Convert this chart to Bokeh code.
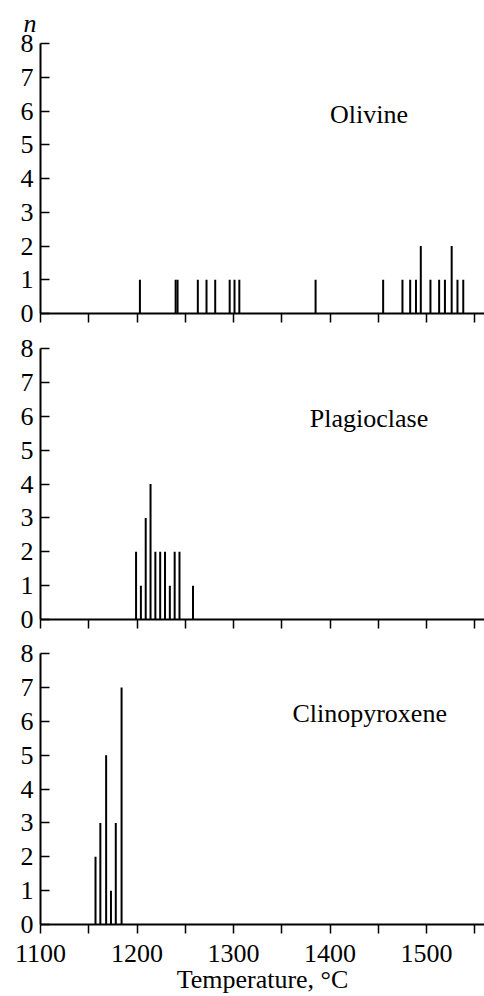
from bokeh.plotting import figure
from bokeh.models import Range1d, FixedTicker, Label
from bokeh.layouts import column
from bokeh.embed import file_html
from bokeh.resources import INLINE

# ---- data ----
olivine_t = [1203, 1240, 1242, 1263, 1272, 1281, 1296, 1301, 1306, 1385,
             1455, 1475, 1483, 1489, 1494, 1504, 1513, 1519, 1526, 1532, 1538]
olivine_n = [1, 1, 1, 1, 1, 1, 1, 1, 1, 1,
             1, 1, 1, 1, 2, 1, 1, 1, 2, 1, 1]
plag_t = [1199, 1204, 1209, 1214, 1219, 1224, 1229, 1234, 1239, 1244, 1258]
plag_n = [2, 1, 3, 4, 2, 2, 2, 1, 2, 2, 1]
cpx_t = [1157, 1162, 1168, 1173, 1178, 1184]
cpx_n = [2, 3, 5, 1, 3, 7]

panel_names = ["Olivine", "Plagioclase", "Clinopyroxene"]
y_ticks = [0, 1, 2, 3, 4, 5, 6, 7, 8]
x_major = [1100, 1200, 1300, 1400, 1500]
x_minor = [1150, 1250, 1350, 1450, 1550]
x_label = "Temperature, °C"
y_label = "n"

FONT = "Liberation Serif"
FS = "26px"
W = 484
FRAME_H = 271


def make_panel(ts, ns, name, label_pos, top, bottom, show_x):
    p = figure(width=W, height=top + FRAME_H + bottom,
               x_range=Range1d(1100, 1560), y_range=Range1d(0, 8),
               output_backend="svg", toolbar_location=None,
               min_border_left=40, min_border_right=0,
               min_border_top=top, min_border_bottom=bottom)
    p.outline_line_color = None
    p.xgrid.visible = False
    p.ygrid.visible = False
    p.background_fill_color = "white"
    p.border_fill_color = "white"

    p.segment(x0=ts, y0=[0] * len(ts), x1=ts, y1=ns,
              line_color="black", line_width=2, line_cap="butt")

    ya = p.yaxis[0]
    ya.ticker = FixedTicker(ticks=y_ticks)
    ya.major_tick_in = 9
    ya.major_tick_out = 0
    ya.minor_tick_line_color = None
    ya.axis_line_width = 2
    ya.major_tick_line_width = 1.5
    ya.major_label_standoff = 7
    ya.major_label_text_font = FONT
    ya.major_label_text_font_size = FS
    ya.major_label_text_color = "black"

    xa = p.xaxis[0]
    if show_x:
        xa.ticker = FixedTicker(ticks=x_major, minor_ticks=x_minor)
        xa.axis_label = x_label
        xa.axis_label_text_font = FONT
        xa.axis_label_text_font_size = FS
        xa.axis_label_text_font_style = "normal"
        xa.axis_label_text_color = "black"
        xa.axis_label_standoff = 0
        xa.major_label_standoff = 11
        xa.major_label_text_font = FONT
        xa.major_label_text_font_size = FS
        xa.major_label_text_color = "black"
    else:
        xa.ticker = FixedTicker(ticks=[], minor_ticks=x_major + x_minor)
        xa.major_label_text_font_size = "0px"
    xa.major_tick_in = 0
    xa.major_tick_out = 9
    xa.minor_tick_in = 0
    xa.minor_tick_out = 9
    xa.axis_line_width = 2
    xa.major_tick_line_width = 1.5
    xa.minor_tick_line_width = 1.5
    xa.minor_tick_line_color = "black"

    p.add_layout(Label(x=label_pos[0], y=label_pos[1], text=name,
                       text_font=FONT, text_font_size=FS,
                       text_baseline="middle", text_align="left",
                       text_color="black"))
    return p


p1 = make_panel(olivine_t, olivine_n, panel_names[0], (1400, 5.9), 42, 17, False)
p1.title.text = y_label
p1.title.text_font = FONT
p1.title.text_font_size = FS
p1.title.text_font_style = "italic"
p1.title.text_color = "black"
p1.title.align = "left"
p1.title.offset = -17
p1.title.standoff = 12

p2 = make_panel(plag_t, plag_n, panel_names[1], (1379, 5.94), 18, 17, False)
p3 = make_panel(cpx_t, cpx_n, panel_names[2], (1361, 6.24), 17, 72, True)

layout = column(p1, p2, p3, spacing=0)

open("out.html", "w").write(file_html(layout, INLINE))
